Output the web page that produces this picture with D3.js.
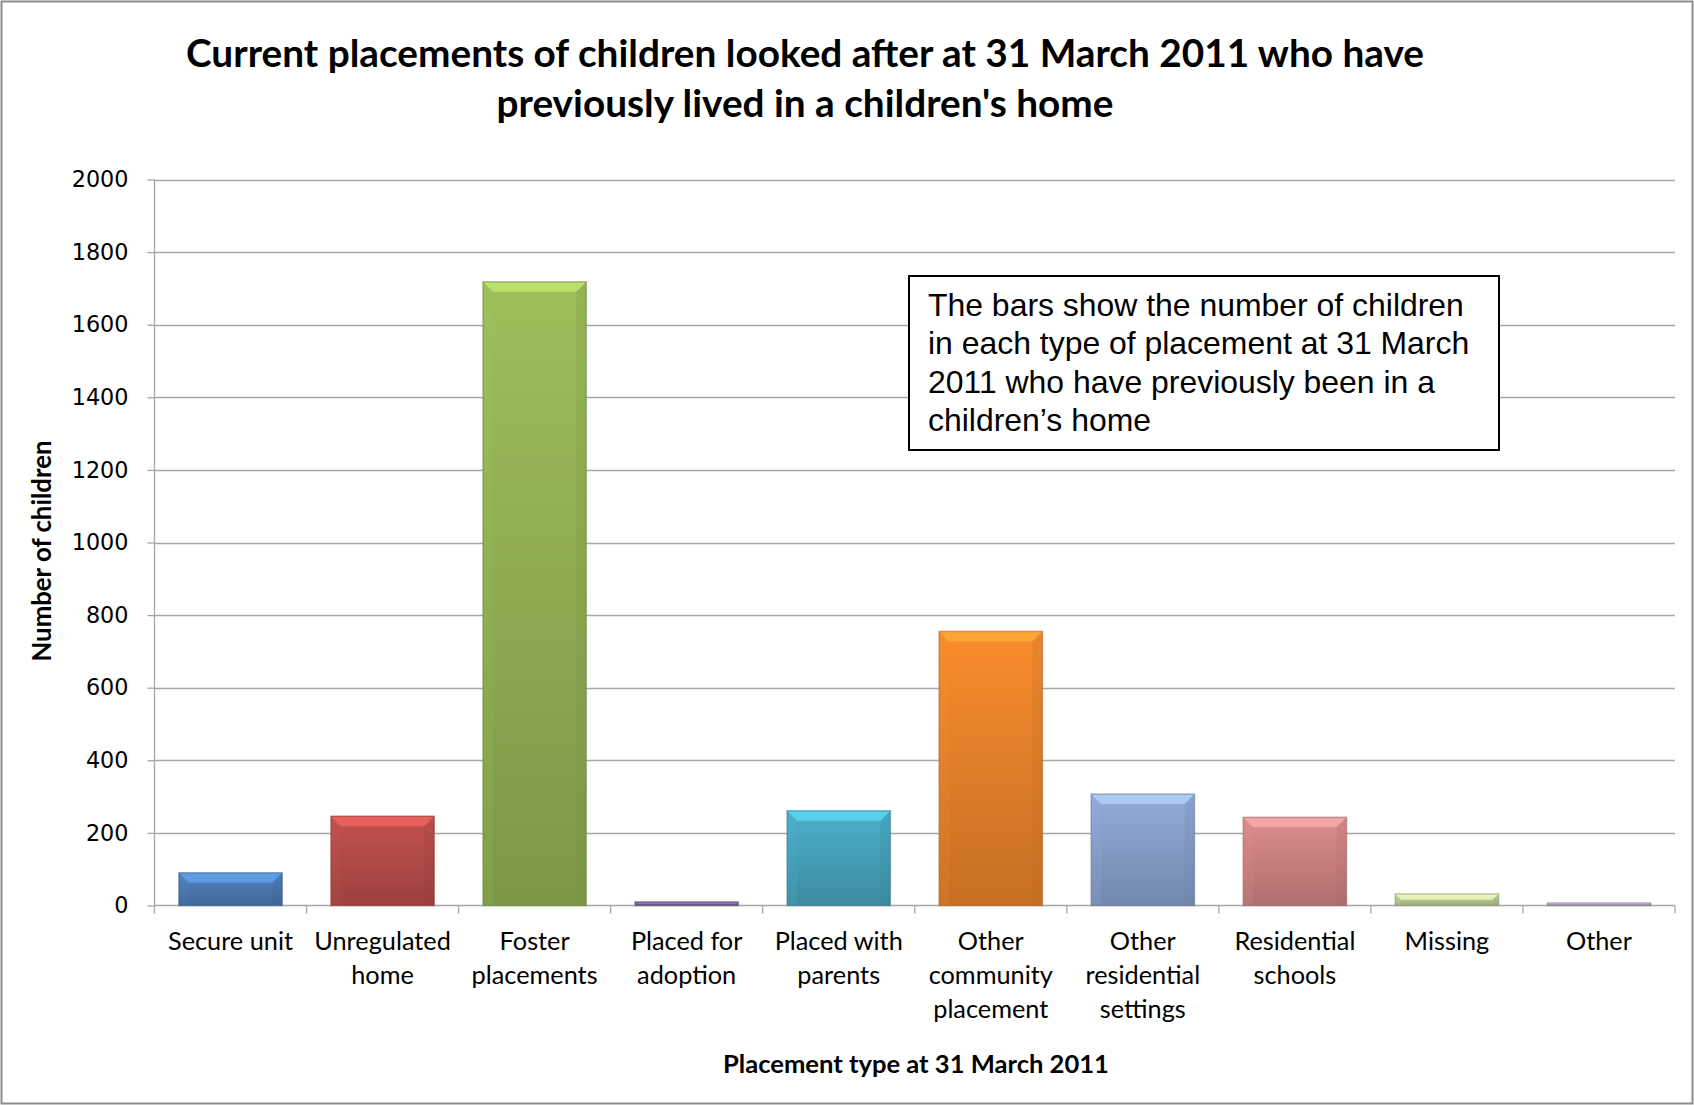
<!DOCTYPE html>
<html>
<head>
<meta charset="utf-8">
<script src="https://cdn.jsdelivr.net/npm/d3@7"></script>
<style>
  html, body { margin: 0; padding: 0; background: #fff; }
  svg { display: block; }
</style>
</head>
<body>
<svg id="chart" width="1694" height="1105"></svg>
<script>
// ---- data ----
const categories = ["Secure unit", "Unregulated home", "Foster placements", "Placed for adoption",
  "Placed with parents", "Other community placement", "Other residential settings",
  "Residential schools", "Missing", "Other"];
const categoryLines = [["Secure unit"], ["Unregulated", "home"], ["Foster", "placements"],
  ["Placed for", "adoption"], ["Placed with", "parents"], ["Other", "community", "placement"],
  ["Other", "residential", "settings"], ["Residential", "schools"], ["Missing"], ["Other"]];
const values = [90, 246, 1718, 10, 261, 755, 307, 243, 32, 7];
const barColors = ["#4F81BD", "#C0504D", "#9BBB59", "#8064A2", "#4BACC6",
  "#F58A2C", "#8EA9D6", "#DA8A8A", "#C3D69B", "#B3A2C7"];
const yTicks = [0, 200, 400, 600, 800, 1000, 1200, 1400, 1600, 1800, 2000];
const titleLines = ["Current placements of children looked after at 31 March 2011 who have",
  "previously lived in a children's home"];
const yAxisTitle = "Number of children";
const xAxisTitle = "Placement type at 31 March 2011";
const noteLines = ["The bars show the number of children",
  "in each type of placement at 31 March",
  "2011 who have previously been in a",
  "children\u2019s home"];

// ---- layout ----
const W = 1694, H = 1105;
const plot = { left: 154.5, right: 1675, top: 179.5, bottom: 905.5 };
const svg = d3.select("#chart");

svg.append("rect").attr("x", 1.5).attr("y", 1.5).attr("width", W - 3).attr("height", H - 3)
  .attr("fill", "#fff").attr("stroke", "#8c8c8c").attr("stroke-width", 2);

const x = d3.scaleBand().domain(categories).range([plot.left, plot.right]).paddingInner(0.32).paddingOuter(0.16);
const y = d3.scaleLinear().domain([0, 2000]).range([plot.bottom, plot.top]);

function fit(sel, target) {
  const n = sel.node();
  const fs = parseFloat(sel.attr("font-size"));
  const w = n.getComputedTextLength();
  sel.attr("font-size", (fs * target / w).toFixed(2));
}

// gridlines
svg.append("g").selectAll("line").data(yTicks.filter(d => d > 0)).join("line")
  .attr("x1", plot.left).attr("x2", plot.right)
  .attr("y1", d => Math.round(y(d)) + 0.5).attr("y2", d => Math.round(y(d)) + 0.5)
  .attr("stroke", "#a6a6a6").attr("stroke-width", 1.3);

// y axis
const yAxis = d3.axisLeft(y).tickValues(yTicks).tickSize(7).tickPadding(19).tickFormat(d3.format("d"));
const gy = svg.append("g").attr("transform", `translate(${plot.left},0)`).call(yAxis);
gy.select(".domain").attr("stroke", "#a6a6a6").attr("stroke-width", 1.3).attr("d", `M0,${plot.top}V${plot.bottom}`);
gy.selectAll(".tick line").attr("stroke", "#a6a6a6").attr("stroke-width", 1.3);
gy.selectAll(".tick text").attr("font-family", "DejaVu Sans, Verdana, sans-serif").attr("font-size", 22.3)
  .attr("fill", "#000");

// x axis
const xb = d3.scaleLinear().domain([0, categories.length]).range([plot.left, plot.right]);
const gx = svg.append("g");
gx.append("line").attr("x1", plot.left).attr("x2", plot.right)
  .attr("y1", plot.bottom).attr("y2", plot.bottom).attr("stroke", "#a6a6a6").attr("stroke-width", 1.3);
gx.selectAll("line.tk").data(d3.range(categories.length + 1)).join("line").attr("class", "tk")
  .attr("x1", d => xb(d)).attr("x2", d => xb(d))
  .attr("y1", plot.bottom).attr("y2", plot.bottom + 8).attr("stroke", "#a6a6a6").attr("stroke-width", 1.3);

// gradients
const defs = svg.append("defs");
barColors.forEach((c, i) => {
  const base = d3.color(c);
  const g = defs.append("linearGradient").attr("id", "g" + i).attr("x1", 0).attr("y1", 0).attr("x2", 0).attr("y2", 1);
  g.append("stop").attr("offset", "0%").attr("stop-color", base.brighter(0.05));
  g.append("stop").attr("offset", "100%").attr("stop-color", base.darker(0.6));
});

// bars
const bars = svg.append("g").selectAll("g").data(categories).join("g");
bars.each(function (cat, i) {
  const g = d3.select(this);
  const x0 = x(cat), bw = x.bandwidth();
  const y0 = y(values[i]), y1 = y(0);
  const h = y1 - y0;
  const b = Math.min(10, h / 2);
  const base = d3.color(barColors[i]);
  g.append("rect").attr("x", x0).attr("y", y0).attr("width", bw).attr("height", h)
    .attr("fill", `url(#g${i})`);
  // top bevel
  g.append("path").attr("d", `M${x0},${y0}H${x0 + bw}L${x0 + bw - b},${y0 + b}H${x0 + b}Z`)
    .attr("fill", base.brighter(0.7)).attr("opacity", 0.7);
  // left bevel
  g.append("path").attr("d", `M${x0},${y0}L${x0 + b},${y0 + b}V${y1}H${x0}Z`)
    .attr("fill", base.brighter(0.2)).attr("opacity", 0.15);
  // right bevel
  g.append("path").attr("d", `M${x0 + bw},${y0}L${x0 + bw - b},${y0 + b}V${y1}H${x0 + bw}Z`)
    .attr("fill", base.darker(0.8)).attr("opacity", 0.2);
  g.append("rect").attr("x", x0).attr("y", y0).attr("width", bw).attr("height", h)
    .attr("fill", "none").attr("stroke", base.darker(1.0)).attr("stroke-opacity", 0.5).attr("stroke-width", 1.5);
});

// category labels
const lab = svg.append("g");
categories.forEach((cat, i) => {
  const cx = x(cat) + x.bandwidth() / 2;
  categoryLines[i].forEach((ln, j) => {
    lab.append("text").attr("x", cx).attr("y", 950 + j * 34)
      .attr("text-anchor", "middle").attr("font-family", "Lato, 'Open Sans', sans-serif")
      .attr("font-size", 25.3).attr("fill", "#000").text(ln);
  });
});

// titles
const t1 = svg.append("text").attr("x", 805).attr("y", 67).attr("text-anchor", "middle")
  .attr("font-family", "Lato, sans-serif").attr("font-weight", "bold").attr("font-size", 34)
  .attr("fill", "#000").text(titleLines[0]);
fit(t1, 1238);
const t2 = svg.append("text").attr("x", 805).attr("y", 117).attr("text-anchor", "middle")
  .attr("font-family", "Lato, sans-serif").attr("font-weight", "bold").attr("font-size", t1.attr("font-size"))
  .attr("fill", "#000").text(titleLines[1]);

const ya = svg.append("text").attr("transform", "translate(51,551) rotate(-90)").attr("text-anchor", "middle")
  .attr("font-family", "Lato, sans-serif").attr("font-weight", "bold").attr("font-size", 22)
  .attr("fill", "#000").text(yAxisTitle);
fit(ya, 221);

const xa = svg.append("text").attr("x", 916).attr("y", 1073).attr("text-anchor", "middle")
  .attr("font-family", "Lato, sans-serif").attr("font-weight", "bold").attr("font-size", 22)
  .attr("fill", "#000").text(xAxisTitle);
fit(xa, 386);

// note box
svg.append("rect").attr("x", 909).attr("y", 276).attr("width", 590).attr("height", 174)
  .attr("fill", "#fff").attr("stroke", "#000").attr("stroke-width", 2);
const notes = noteLines.map((ln, j) => svg.append("text").attr("x", 928).attr("y", 316 + j * 38.3)
  .attr("font-family", "'Liberation Sans', Arial, sans-serif").attr("font-size", 28)
  .attr("fill", "#000").text(ln));
fit(notes[0], 536);
notes.forEach(n => n.attr("font-size", notes[0].attr("font-size")));
</script>
</body>
</html>
